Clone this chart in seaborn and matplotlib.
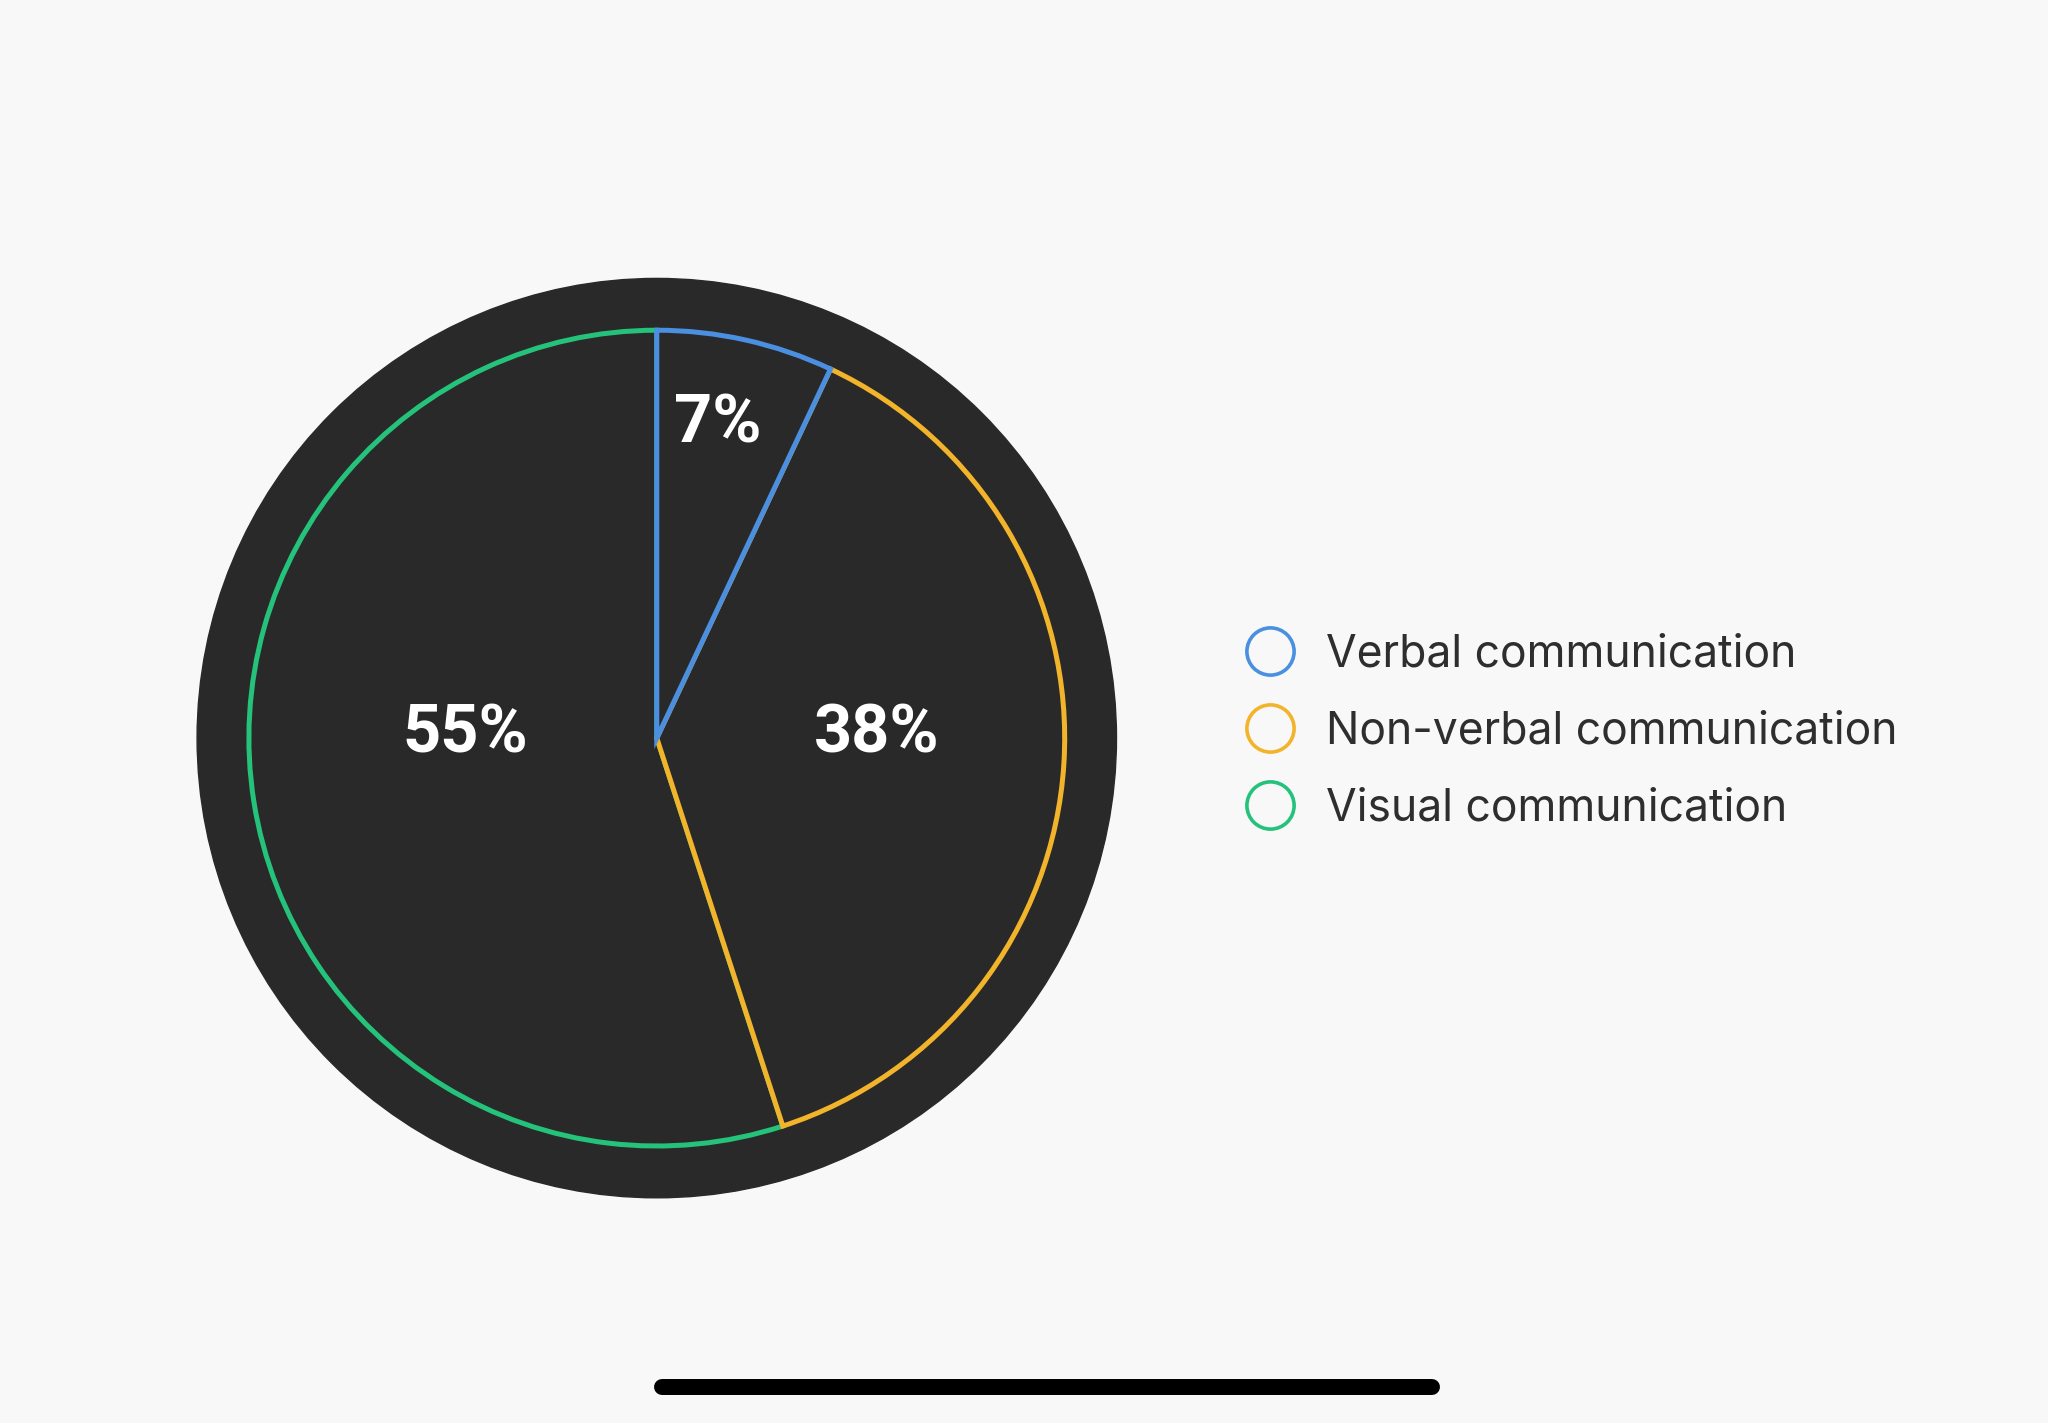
import matplotlib
matplotlib.use("Agg")
import matplotlib.pyplot as plt
from matplotlib.lines import Line2D
from matplotlib.patches import Circle
import seaborn as sns

# data
labels = ["Verbal communication", "Non-verbal communication", "Visual communication"]
shares = [7, 38, 55]
colors = ["#4a8fe0", "#f2b42a", "#25c27c"]
label_pos = [(0.15, 0.77), (0.54, 0.01), (-0.47, 0.01)]  # label offsets, in pie radii

sns.set_theme(style="white")
plt.rcParams["font.family"] = ["Inter", "DejaVu Sans"]

bg = "#f8f8f8"
dark = "#2a2929"

fig = plt.figure(figsize=(20.48, 14.23), dpi=100, facecolor=bg)
ax = fig.add_axes([0.0817, 0.1373, 0.478, 0.688])
ax.set_facecolor(bg)

# dark disc behind the pie
ax.add_patch(Circle((0, 0), 1.127, color=dark, zorder=0))

wedges, _ = ax.pie(shares, startangle=90, counterclock=False, radius=1,
                   colors=[dark] * 3,
                   wedgeprops=dict(linewidth=3.6, joinstyle="miter"))
# blue on top, then orange, then green
for w, c, z in zip(wedges, colors, [4, 3, 2]):
    w.set_edgecolor(c)
    w.set_zorder(z)

for (x, y), v in zip(label_pos, shares):
    ax.text(x, y, f"{v}%", ha="center", va="center", color="white",
            fontsize=48, fontweight="bold",
            family=["Roboto", "DejaVu Sans"], zorder=5)

ax.set_xlim(-1.2, 1.2)
ax.set_ylim(-1.2, 1.2)
ax.set_aspect("equal")
ax.axis("off")

handles = [Line2D([], [], linestyle="none", marker="o", markersize=34,
                  markerfacecolor="none", markeredgecolor=c, markeredgewidth=2.6)
           for c in colors]
leg = fig.legend(handles, labels, loc="center left", bbox_to_anchor=(0.607, 0.486),
                 frameon=False, fontsize=32, labelspacing=0.78, handletextpad=0.66,
                 handlelength=1.2, borderpad=0, borderaxespad=0)
for t in leg.get_texts():
    t.set_color("#2e2e2e")

# home indicator bar at the bottom
fig.add_artist(Line2D([0.323, 0.699], [0.0253, 0.0253], transform=fig.transFigure,
                      color="black", linewidth=11.5, solid_capstyle="round"))

fig.savefig("out.png", dpi=100, facecolor=bg)
